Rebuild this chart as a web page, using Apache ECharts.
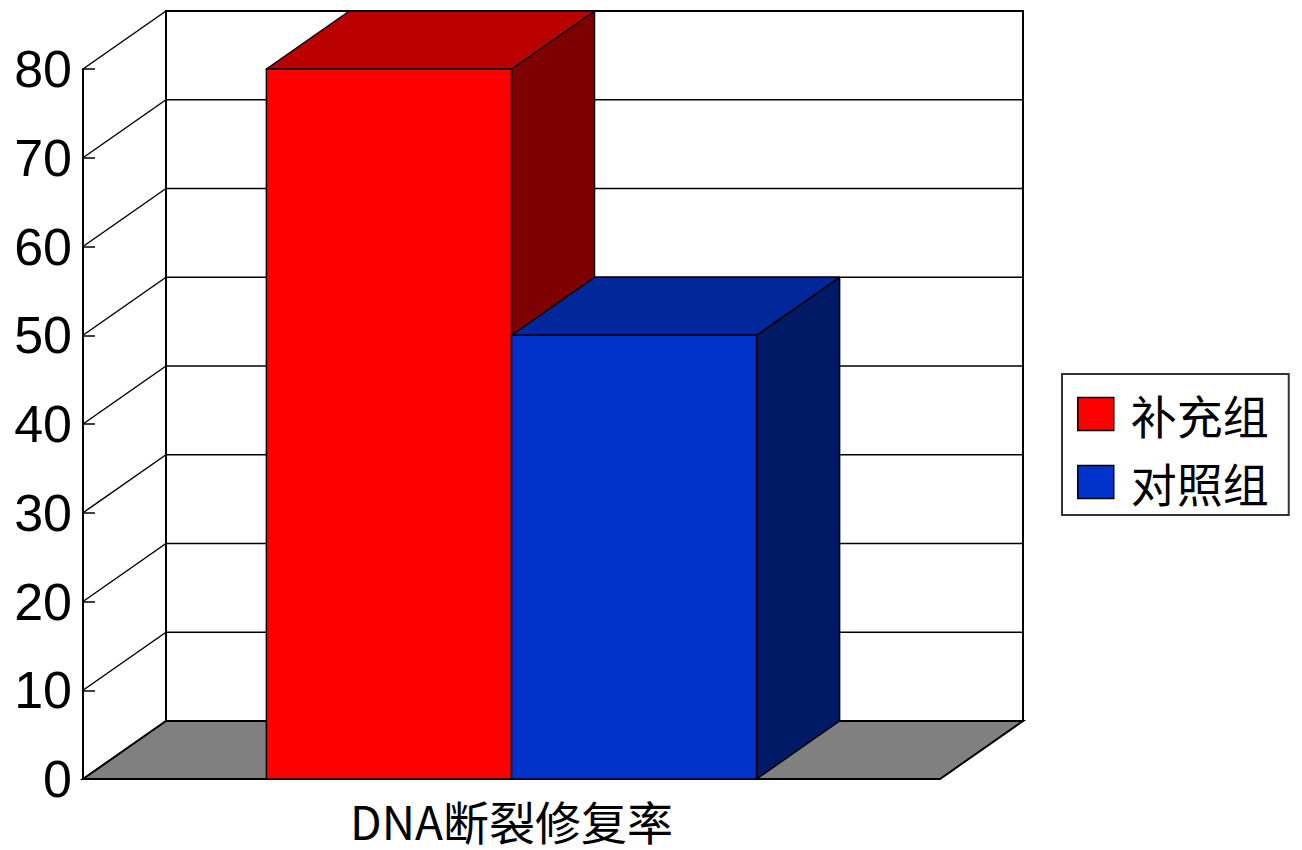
<!DOCTYPE html>
<html>
<head>
<meta charset="utf-8">
<script src="https://cdn.jsdelivr.net/npm/echarts@6/dist/echarts.min.js"></script>
<style>
  html, body { margin: 0; padding: 0; background: #fff; }
  #chart { width: 1302px; height: 850px; }
</style>
</head>
<body>
<div id="chart"></div>
<script>
  // data
  var categories = ["DNA断裂修复率"];
  var seriesNames = ["补充组", "对照组"];
  var supplementValues = [80];
  var controlValues = [50];
  var yTicks = [0, 10, 20, 30, 40, 50, 60, 70, 80];

  // 3d look
  var DX = 83, DY = -58;
  var BAR_FRACTION = 0.286;
  var faceColors = [
    { front: "#FF0000", top: "#BB0000", side: "#7F0000" },
    { front: "#0033CC", top: "#00289A", side: "#001A66" }
  ];

  function renderWalls(params, api) {
    var cs = params.coordSys;
    var x0 = cs.x, x1 = cs.x + cs.width;
    var yTop = api.coord([0, yTicks[yTicks.length - 1]])[1];
    var yBot = api.coord([0, yTicks[0]])[1];
    var lineStyle = { stroke: "#000", lineWidth: 1.5 };
    var children = [];
    children.push({
      type: "rect",
      shape: { x: x0 + DX, y: yTop + DY, width: cs.width, height: yBot - yTop },
      style: { fill: "#fff", stroke: "#000", lineWidth: 2 }
    });
    yTicks.forEach(function (t) {
      var y = api.coord([0, t])[1];
      children.push({
        type: "line",
        shape: { x1: x0 + DX, y1: y + DY, x2: x1 + DX, y2: y + DY },
        style: lineStyle
      });
      children.push({
        type: "line",
        shape: { x1: x0, y1: y, x2: x0 + DX, y2: y + DY },
        style: lineStyle
      });
    });
    // floor
    children.push({
      type: "polygon",
      shape: { points: [[x0, yBot], [x1, yBot], [x1 + DX, yBot + DY], [x0 + DX, yBot + DY]] },
      style: { fill: "#808080", stroke: "#000", lineWidth: 2 }
    });
    return { type: "group", children: children };
  }

  function renderBar(params, api) {
    var top = api.coord([api.value(0), api.value(1)]);
    var base = api.coord([api.value(0), 0]);
    var band = api.size([1, 0])[0];
    var w = band * BAR_FRACTION;
    var slot = params.seriesIndex - 2; // red -1, blue 0
    var left = top[0] + slot * w;
    var c = faceColors[params.seriesIndex - 1];
    var edge = { stroke: "#000", lineWidth: 1.5, lineJoin: "round" };
    return {
      type: "group",
      children: [
        {
          type: "polygon",
          shape: { points: [[left + w, top[1]], [left + w + DX, top[1] + DY], [left + w + DX, base[1] + DY], [left + w, base[1]]] },
          style: Object.assign({ fill: c.side }, edge)
        },
        {
          type: "polygon",
          shape: { points: [[left, top[1]], [left + w, top[1]], [left + w + DX, top[1] + DY], [left + DX, top[1] + DY]] },
          style: Object.assign({ fill: c.top }, edge)
        },
        {
          type: "rect",
          shape: { x: left, y: top[1], width: w, height: base[1] - top[1] },
          style: Object.assign({ fill: c.front }, edge)
        }
      ]
    };
  }

  var chart = echarts.init(document.getElementById("chart"), null, { renderer: "svg" });
  var option = {
    animation: false,
    backgroundColor: "#fff",
    grid: { left: 83, right: 362, top: 69, bottom: 71 },
    legend: {
      orient: "vertical",
      left: 1062,
      top: 374,
      padding: [17, 20, 10, 15],
      itemGap: 22,
      itemWidth: 36,
      itemHeight: 33,
      icon: "rect",
      backgroundColor: "#fff",
      borderColor: "#333",
      borderWidth: 2,
      borderRadius: 0,
      textStyle: {
        fontFamily: "Noto Sans CJK SC",
        fontSize: 46,
        lineHeight: 46,
        color: "#000",
        padding: [0, 0, 0, 12]
      },
      data: [
        { name: seriesNames[0], itemStyle: { color: faceColors[0].front, borderColor: "#000", borderWidth: 1.5 } },
        { name: seriesNames[1], itemStyle: { color: faceColors[1].front, borderColor: "#000", borderWidth: 1.5 } }
      ]
    },
    xAxis: {
      type: "category",
      data: categories,
      axisLine: { show: false },
      axisTick: { show: false },
      axisLabel: {
        margin: 16,
        fontFamily: "Noto Sans CJK SC",
        fontSize: 46,
        lineHeight: 50,
        color: "#000",
        overflow: "none",
        hideOverlap: false
      }
    },
    yAxis: {
      type: "value",
      min: 0,
      max: 80,
      interval: 10,
      splitLine: { show: false },
      axisLine: { show: true, lineStyle: { color: "#000", width: 2 } },
      axisTick: { show: true, inside: true, length: 12, lineStyle: { color: "#000", width: 1.5 } },
      axisLabel: {
        margin: 11,
        fontFamily: "Liberation Sans",
        fontSize: 52,
        color: "#000"
      }
    },
    series: [
      {
        type: "custom",
        silent: true,
        clip: false,
        renderItem: renderWalls,
        data: [[0, 0]],
        z: 1
      },
      {
        type: "custom",
        name: seriesNames[0],
        clip: false,
        renderItem: renderBar,
        itemStyle: { color: faceColors[0].front },
        data: categories.map(function (c, i) { return [i, supplementValues[i]]; }),
        z: 3
      },
      {
        type: "custom",
        name: seriesNames[1],
        clip: false,
        renderItem: renderBar,
        itemStyle: { color: faceColors[1].front },
        data: categories.map(function (c, i) { return [i, controlValues[i]]; }),
        z: 4
      }
    ]
  };
  chart.setOption(option);
</script>
</body>
</html>
